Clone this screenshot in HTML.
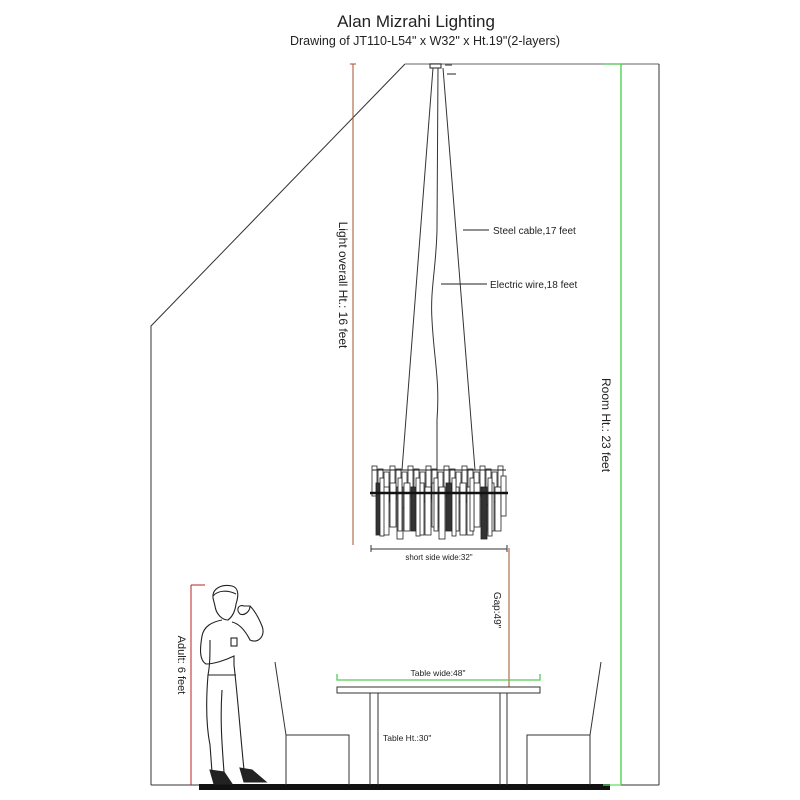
<!DOCTYPE html>
<html><head><meta charset="utf-8"><style>
html,body{margin:0;padding:0;background:#fff;}
svg{display:block;font-family:"Liberation Sans",sans-serif;}
</style></head><body>
<svg width="800" height="800" viewBox="0 0 800 800" xmlns="http://www.w3.org/2000/svg">
<text x="416" y="27" font-size="17" text-anchor="middle" fill="#222">Alan Mizrahi Lighting</text>
<text x="425" y="45" font-size="12.5" text-anchor="middle" fill="#222">Drawing of JT110-L54" x W32" x Ht.19"(2-layers)</text>
<polyline points="151,785 151,326 405,64" fill="none" stroke="#333" stroke-width="1"/>
<line x1="405" y1="64" x2="659" y2="64" stroke="#999" stroke-width="1.5"/>
<line x1="659" y1="64" x2="659" y2="785" stroke="#333" stroke-width="1"/>
<line x1="151" y1="785" x2="200" y2="785" stroke="#333"/>
<line x1="609" y1="785" x2="659" y2="785" stroke="#333"/>
<rect x="199" y="784" width="411" height="6" fill="#111"/>
<line x1="621" y1="64" x2="621" y2="785" stroke="#3c3" stroke-width="1.2"/>
<line x1="603" y1="64" x2="621" y2="64" stroke="#6d6" stroke-width="1.2"/>
<line x1="603" y1="785" x2="621" y2="785" stroke="#6d6" stroke-width="1.2"/>
<text transform="translate(602,425) rotate(90)" font-size="12" text-anchor="middle" fill="#222">Room Ht.: 23 feet</text>
<line x1="353" y1="64" x2="353" y2="545" stroke="#a0522d" stroke-width="1"/>
<line x1="350" y1="64" x2="356" y2="64" stroke="#a0522d"/>
<text transform="translate(339,285) rotate(90)" font-size="12" text-anchor="middle" fill="#222">Light overall Ht.: 16 feet</text>
<rect x="430" y="64" width="11" height="4" fill="#fff" stroke="#222" stroke-width="1"/>
<line x1="445" y1="65" x2="452" y2="65" stroke="#222"/>
<line x1="447" y1="74" x2="456" y2="74" stroke="#222"/>
<line x1="433" y1="68" x2="402" y2="470" stroke="#333"/>
<line x1="443" y1="68" x2="475" y2="470" stroke="#333"/>
<path d="M438,68 L437,230 C436,270 430,290 432,320 C434,360 440,380 437,420 L437,470" fill="none" stroke="#333"/>
<line x1="463" y1="230" x2="489" y2="230" stroke="#222"/>
<text x="493" y="234" font-size="10" fill="#222">Steel cable,17 feet</text>
<line x1="441" y1="284" x2="487" y2="284" stroke="#222"/>
<text x="490" y="288" font-size="10" fill="#222">Electric wire,18 feet</text>
<!-- chandelier -->
<g stroke="#222" stroke-width="0.8" fill="#fff">
<rect x="372" y="466" width="5" height="30"/><rect x="378" y="469" width="5" height="36"/><rect x="384" y="472" width="5" height="30"/>
<rect x="390" y="466" width="5" height="36"/><rect x="396" y="469" width="5" height="30"/><rect x="402" y="472" width="5" height="36"/>
<rect x="408" y="466" width="5" height="30"/><rect x="414" y="469" width="5" height="36"/><rect x="420" y="472" width="5" height="30"/>
<rect x="426" y="466" width="5" height="36"/><rect x="432" y="469" width="5" height="30"/><rect x="438" y="472" width="5" height="36"/>
<rect x="444" y="466" width="5" height="30"/><rect x="450" y="469" width="5" height="36"/><rect x="456" y="472" width="5" height="30"/>
<rect x="462" y="466" width="5" height="36"/><rect x="468" y="469" width="5" height="30"/><rect x="474" y="472" width="5" height="36"/>
<rect x="480" y="466" width="5" height="30"/><rect x="486" y="469" width="5" height="36"/><rect x="492" y="472" width="5" height="30"/>
<rect x="498" y="466" width="5" height="36"/>
<rect x="376" y="483" width="6" height="52" fill="#333"/><rect x="383" y="487" width="6" height="48"/><rect x="390" y="483" width="6" height="44"/>
<rect x="397" y="487" width="6" height="52"/><rect x="404" y="483" width="6" height="48"/><rect x="411" y="487" width="6" height="44" fill="#333"/>
<rect x="418" y="483" width="6" height="52"/><rect x="425" y="487" width="6" height="48"/><rect x="432" y="483" width="6" height="44"/>
<rect x="439" y="487" width="6" height="52"/><rect x="446" y="483" width="6" height="48" fill="#333"/><rect x="453" y="487" width="6" height="44"/>
<rect x="460" y="483" width="6" height="52"/><rect x="467" y="487" width="6" height="48"/><rect x="474" y="483" width="6" height="44"/>
<rect x="481" y="487" width="6" height="52" fill="#333"/><rect x="488" y="483" width="6" height="48"/><rect x="495" y="487" width="6" height="44"/>
<rect x="380" y="478" width="4" height="58"/><rect x="398" y="478" width="4" height="53"/><rect x="416" y="478" width="4" height="58"/>
<rect x="434" y="478" width="4" height="53"/><rect x="452" y="478" width="4" height="58"/><rect x="470" y="478" width="4" height="53"/>
<rect x="488" y="478" width="4" height="58"/><rect x="501" y="476" width="5" height="40"/>
</g>
<line x1="370" y1="493" x2="508" y2="493" stroke="#111" stroke-width="2.5"/>
<line x1="372" y1="470" x2="506" y2="470" stroke="#222" stroke-width="1"/>
<line x1="371" y1="549" x2="507" y2="549" stroke="#333"/>
<line x1="371" y1="545" x2="371" y2="552" stroke="#333"/>
<line x1="507" y1="545" x2="507" y2="552" stroke="#333"/>
<text x="439" y="560" font-size="8" text-anchor="middle" fill="#222">short side wide:32"</text>
<line x1="509" y1="548" x2="509" y2="688" stroke="#a0522d"/>
<text transform="translate(494,610) rotate(90)" font-size="10" text-anchor="middle" fill="#222">Gap:49"</text>
<line x1="191" y1="585" x2="191" y2="785" stroke="#b22"/>
<line x1="191" y1="585" x2="205" y2="585" stroke="#b22"/>
<text transform="translate(178,665) rotate(90)" font-size="11" text-anchor="middle" fill="#222">Adult: 6 feet</text>
<polyline points="337,674 337,680 540,680 540,674" fill="none" stroke="#5c5" stroke-width="1.3"/>
<text x="438" y="676" font-size="8.5" text-anchor="middle" fill="#222">Table wide:48"</text>
<rect x="337" y="687" width="203" height="6" fill="#fff" stroke="#333"/>
<polyline points="370,785 370,693 378,693 378,785" fill="none" stroke="#333"/>
<polyline points="500,785 500,693 507,693 507,785" fill="none" stroke="#333"/>
<text x="383" y="741" font-size="8.5" fill="#222">Table Ht.:30"</text>
<path d="M275,662 L286,735 L286,785 M286,735 L349,735 L349,785" fill="none" stroke="#333"/>
<path d="M601,662 L590,735 L590,785 M590,735 L527,735 L527,785" fill="none" stroke="#333"/>
<g fill="none" stroke="#222" stroke-width="1.1">
<path d="M213,598 C212,588 222,584 232,586 C240,588 238,598 236,604 C235,612 232,617 228,620 C222,620 216,614 215,606 Z"/>
<path d="M213,596 C218,590 228,590 236,594"/>
<path d="M222,620 C212,622 204,626 202,636 C200,648 199,660 206,664 C214,664 226,660 234,656 L234,665"/>
<path d="M232,622 C240,624 246,632 250,640 C258,644 266,636 262,626 C258,616 254,610 250,606"/>
<path d="M244,606 C238,604 236,610 240,614 C244,616 250,612 250,606 Z"/>
<path d="M210,640 C210,655 210,665 208,675 C206,700 206,725 210,745 L212,772 M234,665 C238,700 240,730 244,770"/>
<path d="M208,675 L236,675 M222,690 C220,720 222,745 224,772"/>
<rect x="231" y="638" width="6" height="8"/>
<path d="M210,770 L214,784 L232,784 L224,772 Z M240,768 L244,782 L266,782 L252,770 Z" fill="#222"/>
</g>
</svg>
</body></html>
